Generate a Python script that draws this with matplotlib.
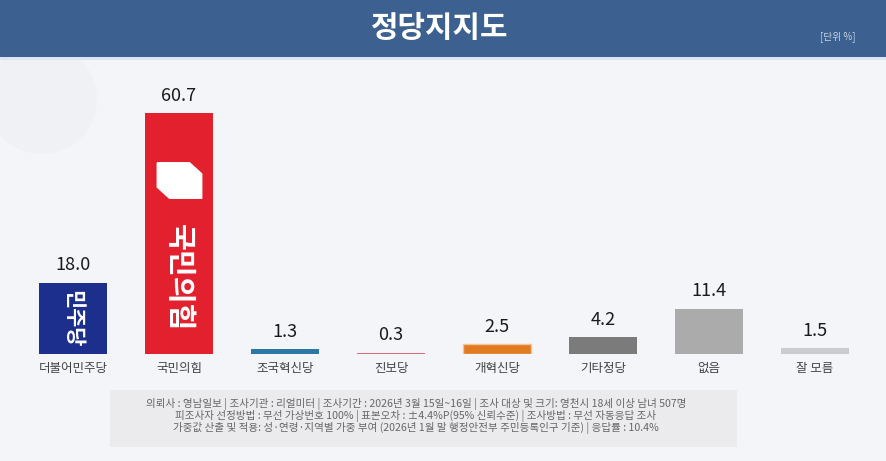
import matplotlib.pyplot as plt
from matplotlib.patches import Rectangle, Circle

plt.rcParams['font.family'] = ['Noto Sans CJK KR', 'DejaVu Sans']

# data
parties = ['더불어민주당', '국민의힘', '조국혁신당', '진보당', '개혁신당', '기타정당', '없음', '잘 모름']
support = [18.0, 60.7, 1.3, 0.3, 2.5, 4.2, 11.4, 1.5]
colors = ['#1d2f8c', '#e3202d', '#2a78a3', '#d86c7a', '#e07b22', '#7b7b7b', '#ababab', '#cacbcd']

title = '정당지지도'
unit = '[단위 %]'
notes = [
    '의뢰사 : 영남일보 | 조사기관 : 리얼미터 | 조사기간 : 2026년 3월 15일~16일 | 조사 대상 및 크기: 영천시 18세 이상 남녀 507명',
    '피조사자 선정방법 : 무선 가상번호 100% | 표본오차 : ±4.4%P(95% 신뢰수준) | 조사방법 : 무선 자동응답 조사',
    '가중값 산출 및 적용: 성·연령·지역별 가중 부여 (2026년 1월 말 행정안전부 주민등록인구 기준) | 응답률 : 10.4%',
]

W, H = 887, 461
fig = plt.figure(figsize=(W / 100, H / 100), dpi=100)
fig.patch.set_facecolor('#f4f5f8')

# faint watermark disc top-left (inches)
fig.patches.append(Circle((0.42, 3.62), 0.55, transform=fig.dpi_scale_trans,
                          facecolor='#f0f1f4', edgecolor='none', zorder=0))

# title bar
fig.patches.append(Rectangle((0, 1 - 57 / H), 1, 57 / H, transform=fig.transFigure,
                             facecolor='#3c6190', edgecolor='none', zorder=1))
fig.patches.append(Rectangle((0, 1 - 60 / H), 1, 3 / H, transform=fig.transFigure,
                             facecolor='#dbe6f2', edgecolor='none', zorder=1))
fig.text(440 / W, 1 - 28 / H, title, color='white', fontsize=21.5, fontweight='bold',
         ha='center', va='center', zorder=2)
fig.text(838 / W, 1 - 37 / H, unit, color='#c9d5e5', fontsize=7,
         ha='center', va='center', zorder=2)

# bars
ax = fig.add_axes([20 / W, 107 / H, 848 / W, 297 / H])
ax.set_facecolor('none')
x = range(len(parties))
bars = ax.bar(x, support, width=0.64, color=colors, zorder=2)
bars[4].set_edgecolor('#f6c48e')
bars[4].set_linewidth(1)
ax.set_xlim(-0.5, len(parties) - 0.5)
ax.set_ylim(0, 297 / 3.97)
for s in ax.spines.values():
    s.set_visible(False)
ax.set_yticks([])
ax.set_xticks(list(x))
ax.set_xticklabels(parties, fontsize=9, color='#444444')
ax.tick_params(axis='x', length=0, pad=6)

for i, v in enumerate(support):
    ax.annotate(f'{v:.1f}', (i, v), xytext=(0, 6), textcoords='offset points',
                ha='center', va='bottom', fontsize=13, color='#1a1a1a')

# party logos inside the two big bars
ax.text(0, support[0] * 0.5, '민주당', rotation=-90, color='white', fontsize=15,
        fontweight='bold', ha='center', va='center', zorder=3)
ax.text(1, support[1] * 0.315, '국민의힘', rotation=-90, color='white', fontsize=21,
        fontweight='bold', ha='center', va='center', zorder=3)
shape = [(-1, 0.8), (0.45, 0.8), (1, 0.3), (1, -0.8), (-0.45, -0.8), (-1, -0.3), (-1, 0.8)]
ax.plot([1], [support[1] * 0.72], marker=shape, markersize=32, color='white',
        linestyle='none', zorder=3)

# footer notes
fig.patches.append(Rectangle((110 / W, 1 - 447 / H), 627 / W, 57 / H, transform=fig.transFigure,
                             facecolor='#ebebed', edgecolor='none', zorder=1))
for k, line in enumerate(notes):
    fig.text(416 / W, 1 - (404 + 12 * k) / H, line, fontsize=7.6, color='#666666',
             ha='center', va='center', zorder=2)

fig.savefig('out.png', dpi=100, facecolor=fig.get_facecolor())
